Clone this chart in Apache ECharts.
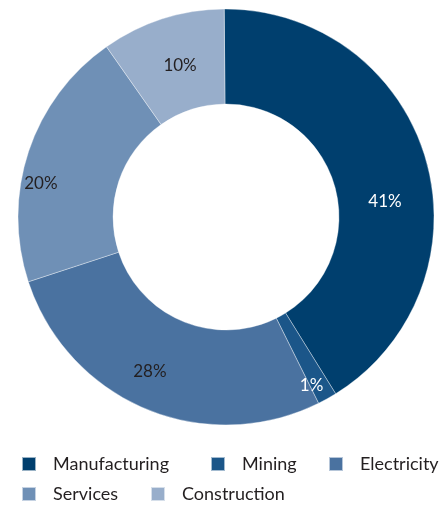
<!DOCTYPE html>
<html><head><meta charset="utf-8">
<script src="https://cdn.jsdelivr.net/npm/echarts@6/dist/echarts.min.js"></script>
<style>html,body{margin:0;padding:0;background:#fff}#c{width:447px;height:507px}</style>
</head><body><div id="c"></div>
<script>
const categories = ['Manufacturing', 'Mining', 'Electricity', 'Services', 'Construction'];
const values = [41.3, 1.5, 27.3, 20.3, 9.6];
const labels = ['41%', '1%', '28%', '20%', '10%'];

const colors = ['#003f6e', '#1b5689', '#4a72a0', '#6f90b6', '#98aecb'];
const labelColors = ['#ffffff', '#ffffff', '#231f20', '#231f20', '#231f20'];
const labelOffsets = [[2, 30], [6, 26], [-13, 4], [-30, 18], [4, 4]];
const legendPos = [[21, 455], [210, 455], [328, 455], [21, 485], [150, 485]];
const font = 'Lato, "Open Sans", sans-serif';

const chart = echarts.init(document.getElementById('c'), null, {renderer: 'canvas'});
chart.setOption({
  animation: false,
  color: colors,
  legend: categories.map((n, i) => ({
    data: [n], left: legendPos[i][0], top: legendPos[i][1],
    icon: 'rect', itemWidth: 14, itemHeight: 14, padding: 0,
    textStyle: {fontFamily: font, fontSize: 18, color: '#231f20', padding: [0, 0, 0, 12]}
  })),
  series: [{
    type: 'pie',
    center: [226, 217],
    radius: [113, 208],
    startAngle: 90.5,
    clockwise: true,
    avoidLabelOverlap: false,
    itemStyle: {borderColor: 'rgba(255,255,255,0.6)', borderWidth: 0.6},
    label: {position: 'inside', fontFamily: font, fontSize: 17},
    labelLine: {show: false},
    data: categories.map((n, i) => ({
      name: n, value: values[i],
      label: {formatter: labels[i], color: labelColors[i], offset: labelOffsets[i]}
    }))
  }]
});
</script></body></html>
